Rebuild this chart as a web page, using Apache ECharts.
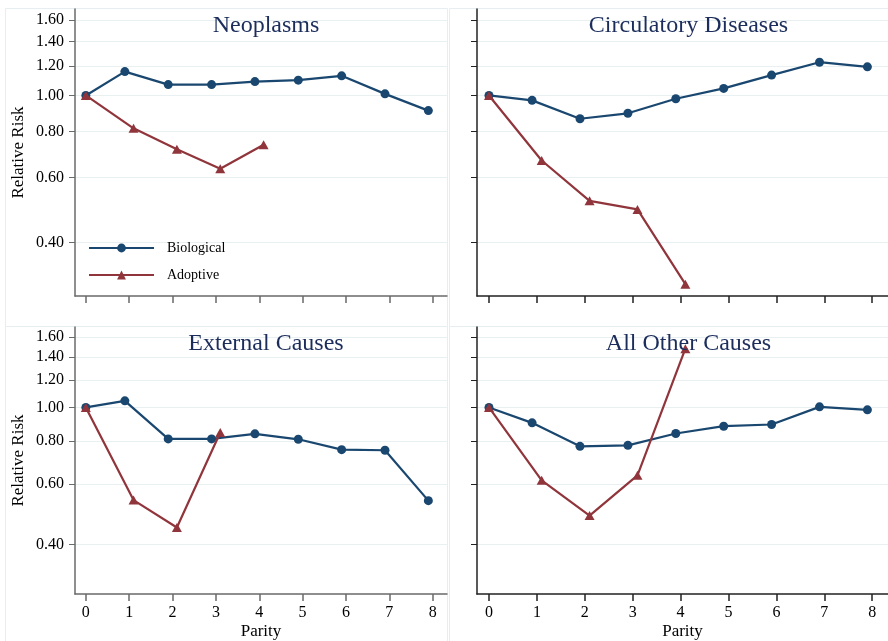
<!DOCTYPE html>
<html>
<head>
<meta charset="utf-8">
<title>Relative Risk by Parity</title>
<script src="https://cdn.jsdelivr.net/npm/echarts@6/dist/echarts.min.js"></script>
<style>
  html, body { margin: 0; padding: 0; background: #ffffff; }
  #chart { width: 888px; height: 641px; }
</style>
</head>
<body>
<div id="chart"></div>
<script>
// Parity categories (number of children)
const parity = [0, 1, 2, 3, 4, 5, 6, 7, 8];
const parityAdoptive = [0, 1, 2, 3, 4];

// Panel titles
const panelTitles = ['Neoplasms', 'Circulatory Diseases', 'External Causes', 'All Other Causes'];

// Relative risk, biological parity
const bioNeoplasms   = [1.00, 1.16, 1.07, 1.07, 1.09, 1.10, 1.13, 1.01, 0.91];
const bioCirculatory = [1.00, 0.97, 0.865, 0.895, 0.98, 1.045, 1.135, 1.23, 1.195];
const bioExternal    = [1.00, 1.045, 0.81, 0.81, 0.838, 0.808, 0.754, 0.751, 0.536];
const bioOther       = [1.00, 0.902, 0.771, 0.776, 0.84, 0.882, 0.892, 1.004, 0.984];

// Relative risk, adoptive parity
const adoNeoplasms   = [1.00, 0.815, 0.715, 0.634, 0.736];
const adoCirculatory = [1.00, 0.667, 0.519, 0.492, 0.309];
const adoExternal    = [1.00, 0.538, 0.448, 0.846];
const adoOther       = [1.00, 0.614, 0.485, 0.635, 1.482];

// Axis tick values
const yTicks = [0.40, 0.60, 0.80, 1.00, 1.20, 1.40, 1.60];
const xTicks = [0, 1, 2, 3, 4, 5, 6, 7, 8];

const BIO_COLOR = '#1a476f';
const ADO_COLOR = '#90353b';
const SERIF = '"Liberation Serif", "Times New Roman", serif';

// biological points sit slightly left of the tick, adoptive slightly right
const BIO_SHIFT = -0.1;
const ADO_SHIFT = 0.1;
function pairs(xs, ys, shift) {
  return ys.map((v, i) => [xs[i] === 0 ? 0 : xs[i] + shift, v]);
}

const bioSets = [bioNeoplasms, bioCirculatory, bioExternal, bioOther];
const adoSets = [adoNeoplasms, adoCirculatory, adoExternal, adoOther];

const grids = [
  { left: 75,  top: 9,   width: 372, height: 287 },
  { left: 477, top: 9,   width: 413, height: 287 },
  { left: 75,  top: 327, width: 372, height: 267 },
  { left: 477, top: 327, width: 413, height: 267 }
];

const xAxes = grids.map((g, i) => {
  const bottomRow = i >= 2;
  const axisColor = (i % 2 === 0) ? '#6a6a6a' : '#222222';
  return {
    type: 'value', gridIndex: i, min: -0.25, max: 8.33,
    name: bottomRow ? 'Parity' : '',
    nameLocation: 'middle', nameGap: 29,
    nameTextStyle: { fontFamily: SERIF, fontSize: 17, color: '#000' },
    axisLine: { show: true, onZero: false, lineStyle: { color: axisColor, width: 1.5 } },
    axisTick: { show: true, length: 7, customValues: xTicks, lineStyle: { color: axisColor, width: 1.5 } },
    axisLabel: { show: bottomRow, customValues: xTicks, margin: 11, fontFamily: SERIF, fontSize: 16, color: '#000' },
    splitLine: { show: false }
  };
});

const yAxes = grids.map((g, i) => {
  const leftCol = i % 2 === 0;
  const axisColor = leftCol ? '#6a6a6a' : '#222222';
  return {
    type: 'log', logBase: 10, gridIndex: i, min: 0.287, max: 1.713,
    name: leftCol ? 'Relative Risk' : '',
    nameLocation: 'middle', nameGap: 48, nameRotate: 90,
    nameTextStyle: { fontFamily: SERIF, fontSize: 17, color: '#000' },
    axisLine: { show: true, onZero: false, lineStyle: { color: axisColor, width: 1.5 } },
    axisTick: { show: true, length: 6, customValues: yTicks, lineStyle: { color: axisColor, width: 1 } },
    axisLabel: { show: leftCol, customValues: yTicks, margin: 11, fontFamily: SERIF, fontSize: 16, color: '#000',
                 formatter: v => Number(v).toFixed(2) },
    splitLine: { show: true, lineStyle: { color: '#e8f0f2', width: 1.2 } }
  };
});

const series = [];
for (let i = 0; i < 4; i++) {
  series.push({
    name: 'Biological', type: 'line', xAxisIndex: i, yAxisIndex: i,
    data: pairs(parity, bioSets[i], BIO_SHIFT),
    symbol: 'circle', symbolSize: 9, showAllSymbol: true,
    lineStyle: { color: BIO_COLOR, width: 2.2 },
    itemStyle: { color: BIO_COLOR },
    animation: false, z: 3
  });
  series.push({
    name: 'Adoptive', type: 'line', xAxisIndex: i, yAxisIndex: i,
    data: pairs(parityAdoptive, adoSets[i], ADO_SHIFT),
    symbol: 'triangle', symbolSize: [10, 9], showAllSymbol: true,
    lineStyle: { color: ADO_COLOR, width: 2.2 },
    itemStyle: { color: ADO_COLOR },
    animation: false, z: 4
  });
}

const titles = grids.map((g, i) => ({
  text: panelTitles[i],
  left: g.left + g.width / 2, top: g.top, textAlign: 'center',
  textStyle: { fontFamily: SERIF, fontSize: 24, fontWeight: 'normal', color: '#1c2d5c' }
}));

// faint outlines around each sub-graph region
const frameStyle = { fill: 'none', stroke: '#e6eef1', lineWidth: 1 };
const frames = [
  { type: 'rect', shape: { x: 5.5, y: 8.5, width: 442, height: 318 }, style: frameStyle, silent: true, z: -1 },
  { type: 'rect', shape: { x: 449.5, y: 8.5, width: 450, height: 318 }, style: frameStyle, silent: true, z: -1 },
  { type: 'rect', shape: { x: 5.5, y: 326.5, width: 442, height: 330 }, style: frameStyle, silent: true, z: -1 },
  { type: 'rect', shape: { x: 449.5, y: 326.5, width: 450, height: 330 }, style: frameStyle, silent: true, z: -1 }
];

const chart = echarts.init(document.getElementById('chart'), null, { renderer: 'canvas' });
chart.setOption({
  animation: false,
  backgroundColor: '#ffffff',
  title: titles,
  grid: grids,
  xAxis: xAxes,
  yAxis: yAxes,
  legend: {
    data: ['Biological', 'Adoptive'],
    orient: 'vertical', left: 88, top: 241, padding: 0,
    itemWidth: 65, itemHeight: 11, itemGap: 13,
    textStyle: { fontFamily: SERIF, fontSize: 14, color: '#000', padding: [0, 0, 0, 8] }
  },
  graphic: frames,
  series: series
});
</script>
</body>
</html>
